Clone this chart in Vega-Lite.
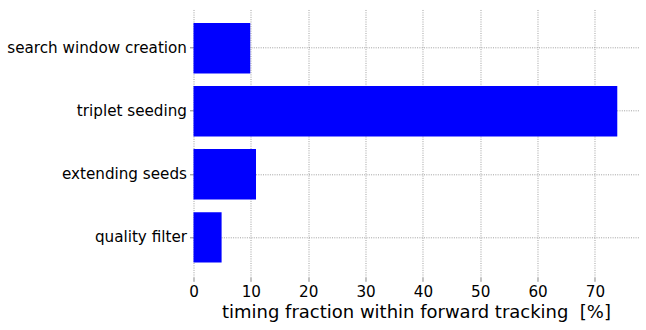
{
  "$schema": "https://vega.github.io/schema/vega-lite/v6.json",
  "autosize": "none",
  "padding": {"left": 193.5, "top": 8.3, "right": 7, "bottom": 52},
  "width": 445,
  "height": 269,
  "background": "white",
  "config": {"view": {"stroke": null}, "font": "DejaVu Sans"},
  "data": {"values": [
    {"task": "search window creation", "value": 9.9},
    {"task": "triplet seeding", "value": 73.9},
    {"task": "extending seeds", "value": 10.9},
    {"task": "quality filter", "value": 4.9}
  ]},
  "mark": {"type": "bar", "color": "#0000ff"},
  "encoding": {
    "y": {
      "field": "task", "type": "nominal", "sort": null,
      "scale": {"paddingInner": 0.2, "paddingOuter": 0.233},
      "axis": {
        "title": null, "domain": false, "labelFontSize": 15.2, "labelColor": "black",
        "tickColor": "#888", "tickSize": 4, "labelPadding": 3,
        "grid": true, "gridColor": "#888", "gridDash": [1, 1.3], "gridWidth": 0.8
      }
    },
    "x": {
      "field": "value", "type": "quantitative",
      "scale": {"domain": [0, 77.6], "nice": false, "zero": true},
      "axis": {
        "values": [0, 10, 20, 30, 40, 50, 60, 70],
        "title": "timing fraction within forward tracking \u00a0[%]",
        "titleFontSize": 18, "titleFontWeight": "normal", "titleColor": "black", "titlePadding": 4,
        "domain": false, "labelFontSize": 15.2, "labelColor": "black", "labelFlush": false,
        "tickColor": "#888", "tickSize": 4, "labelPadding": 3,
        "grid": true, "gridColor": "#888", "gridDash": [1, 1.3], "gridWidth": 0.8
      }
    }
  }
}
